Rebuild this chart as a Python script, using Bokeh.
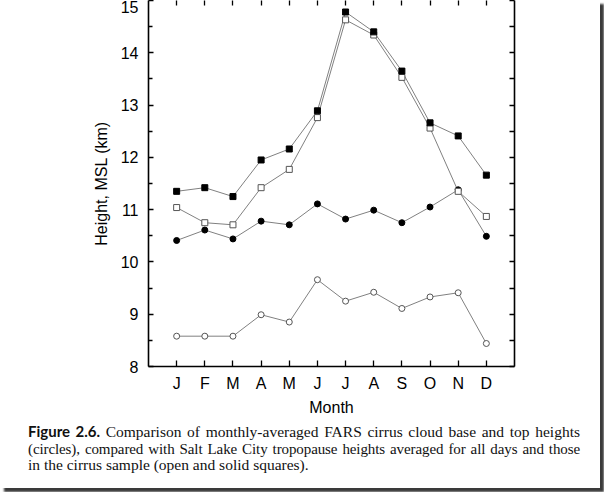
from bokeh.plotting import figure
from bokeh.models import LinearAxis, FixedTicker, ColumnDataSource, Div
from bokeh.layouts import column
from bokeh.embed import file_html
from bokeh.resources import INLINE

months = ["J", "F", "M", "A", "M", "J", "J", "A", "S", "O", "N", "D"]
month_idx = list(range(1, 13))

tropo_cirrus = [11.35, 11.42, 11.25, 11.95, 12.16, 12.89, 14.78, 14.40, 13.65, 12.66, 12.41, 11.66]   # solid squares
tropo_all = [11.04, 10.75, 10.71, 11.42, 11.77, 12.76, 14.63, 14.34, 13.53, 12.56, 11.35, 10.87]      # open squares
cirrus_top = [10.41, 10.61, 10.44, 10.78, 10.71, 11.11, 10.82, 10.99, 10.75, 11.05, 11.38, 10.49]     # solid circles
cirrus_base = [8.58, 8.58, 8.58, 8.99, 8.85, 9.66, 9.25, 9.42, 9.11, 9.33, 9.41, 8.44]               # open circles

caption_label = "Figure 2.6."
caption_lines = [
    "Comparison of monthly-averaged FARS cirrus cloud base and top heights",
    "(circles), compared with Salt Lake City tropopause heights averaged for all days and those",
    "in the cirrus sample (open and solid squares).",
]

src = ColumnDataSource(dict(x=month_idx, tc=tropo_cirrus, ta=tropo_all, ct=cirrus_top, cb=cirrus_base))

p = figure(width=600, height=420, x_range=(0, 13), y_range=(8, 15),
           output_backend="svg", toolbar_location=None,
           min_border_left=148, min_border_right=86, min_border_top=0, min_border_bottom=54,
           background_fill_color="white", border_fill_color="white")
p.outline_line_color = None
p.xgrid.visible = False
p.ygrid.visible = False

line_col = "#808080"
for col in ["cb", "ct", "ta", "tc"]:
    p.line("x", col, source=src, line_color=line_col, line_width=1.0)

p.scatter("x", "cb", source=src, marker="circle", size=6, fill_color="white", line_color="#555555", line_width=1)
p.scatter("x", "ct", source=src, marker="circle", size=6, fill_color="black", line_color="black")
p.scatter("x", "ta", source=src, marker="square", size=6, fill_color="white", line_color="#555555", line_width=1)
p.scatter("x", "tc", source=src, marker="square", size=6, fill_color="black", line_color="black")

font = "Liberation Sans"
ytick = FixedTicker(ticks=[8, 9, 10, 11, 12, 13, 14, 15], minor_ticks=[8.5, 9.5, 10.5, 11.5, 12.5, 13.5, 14.5])
xtick = FixedTicker(ticks=month_idx, minor_ticks=[])

def style_axis(ax):
    ax.axis_line_color = "black"
    ax.axis_line_width = 1.6
    ax.major_tick_line_color = "black"
    ax.major_tick_line_width = 1.3
    ax.minor_tick_line_color = "black"
    ax.minor_tick_line_width = 1.3
    ax.major_tick_out = 0
    ax.minor_tick_out = 0

ya = p.yaxis[0]
ya.ticker = ytick
style_axis(ya)
ya.major_tick_in = 5
ya.minor_tick_in = 4
ya.major_label_text_font = font
ya.major_label_text_font_size = "16px"
ya.major_label_text_color = "black"
ya.major_label_standoff = 10
ya.axis_label = "Height, MSL (km)"
ya.axis_label_text_font = font
ya.axis_label_text_font_size = "16px"
ya.axis_label_text_font_style = "normal"
ya.axis_label_text_color = "black"
ya.axis_label_standoff = 8

xa = p.xaxis[0]
xa.ticker = xtick
style_axis(xa)
xa.major_tick_in = 6
xa.major_label_overrides = {i: m for i, m in zip(month_idx, months)}
xa.major_label_text_font = font
xa.major_label_text_font_size = "16px"
xa.major_label_text_color = "black"
xa.major_label_standoff = 8
xa.axis_label = "Month"
xa.axis_label_text_font = font
xa.axis_label_text_font_size = "16px"
xa.axis_label_text_font_style = "normal"
xa.axis_label_text_color = "black"
xa.axis_label_standoff = 4

right_ticks = [8, 8.5, 9, 9.5, 10, 10.5, 11, 11.5, 12, 12.5, 13, 13.5, 14, 14.5, 15]
ra = LinearAxis(ticker=FixedTicker(ticks=right_ticks, minor_ticks=[]))
style_axis(ra)
ra.major_tick_in = 5
ra.major_label_overrides = {t: "" for t in right_ticks}
p.add_layout(ra, "right")

ta_ax = LinearAxis(ticker=FixedTicker(ticks=month_idx, minor_ticks=[]))
style_axis(ta_ax)
ta_ax.axis_line_color = None
ta_ax.major_tick_in = 5
ta_ax.major_label_overrides = {i: "" for i in month_idx}
p.add_layout(ta_ax, "above")

line_style = "width:552px;white-space:nowrap;text-align:justify;text-align-last:justify;"
html = (
    '<div style="padding:3px 0 0 28px;font-family:\'Liberation Serif\';color:#111;line-height:16.5px;">'
    f'<div style="{line_style}font-size:15.5px;">'
    f'<span style="font-family:Lato;font-weight:bold;font-size:15px;">{caption_label}</span> {caption_lines[0]}</div>'
    f'<div style="{line_style}font-size:15px;letter-spacing:-0.1px;">{caption_lines[1]}</div>'
    f'<div style="font-size:15.5px;white-space:nowrap;">{caption_lines[2]}</div>'
    '</div>'
)
cap = Div(text=html, width=600, height=68, styles={"background-color": "white", "margin": "0"})

layout = column(p, cap, spacing=0)
layout.styles = {"box-shadow": "4px 4px 2px #3a3a3a", "background-color": "white"}

open("out.html", "w").write(file_html(layout, INLINE))
